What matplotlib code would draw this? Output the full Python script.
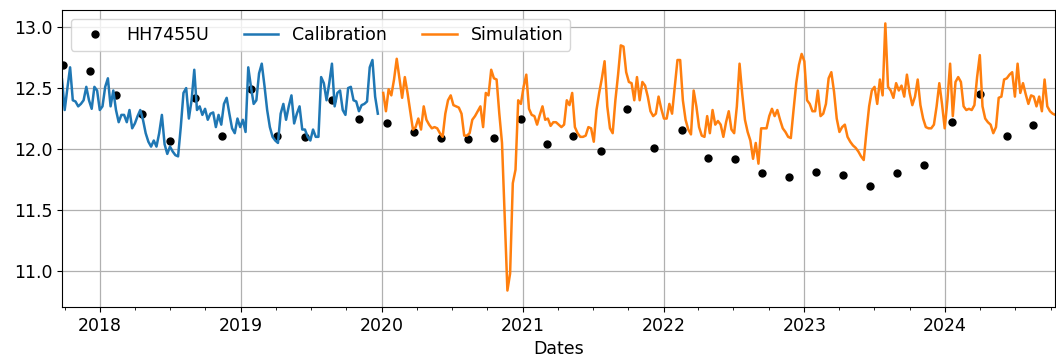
import numpy as np
import pandas as pd
import matplotlib
matplotlib.use("Agg")
import matplotlib.pyplot as plt
import matplotlib.dates as mdates

# observed levels (well HH7455U)
obs_dates = ["2017-09-27", "2017-12-06", "2018-02-12", "2018-04-19", "2018-07-01",
             "2018-09-05", "2018-11-14", "2019-01-27", "2019-04-05", "2019-06-17",
             "2019-08-25", "2019-11-04", "2020-01-15", "2020-03-25", "2020-06-03",
             "2020-08-11", "2020-10-17", "2020-12-27", "2021-03-05", "2021-05-12",
             "2021-07-23", "2021-09-28", "2021-12-07", "2022-02-17", "2022-04-27",
             "2022-07-05", "2022-09-13", "2022-11-22", "2023-02-01", "2023-04-11",
             "2023-06-21", "2023-08-29", "2023-11-08", "2024-01-20", "2024-03-31",
             "2024-06-09", "2024-08-16"]
obs_values = [12.69, 12.64, 12.44, 12.29, 12.07, 12.42, 12.11, 12.49, 12.11, 12.10,
              12.40, 12.25, 12.21, 12.14, 12.09, 12.08, 12.09, 12.25, 12.04, 12.11,
              11.98, 12.33, 12.01, 12.16, 11.93, 11.92, 11.80, 11.77, 11.81, 11.79,
              11.70, 11.80, 11.87, 12.22, 12.45, 12.11, 12.20]

# weekly calibration run
calib_start = "2017-09-24"
calib_values = [12.57, 12.32, 12.50, 12.67, 12.40, 12.39, 12.35, 12.37, 12.40, 12.51,
                12.40, 12.33, 12.51, 12.48, 12.32, 12.35, 12.51, 12.58, 12.35, 12.48,
                12.32, 12.22, 12.28, 12.28, 12.22, 12.32, 12.17, 12.21, 12.27, 12.32,
                12.24, 12.13, 12.06, 12.02, 12.07, 12.02, 12.13, 12.28, 12.04, 11.96,
                12.02, 11.98, 11.95, 11.94, 12.18, 12.46, 12.50, 12.25, 12.40, 12.65,
                12.32, 12.35, 12.28, 12.33, 12.24, 12.29, 12.30, 12.18, 12.28, 12.20,
                12.37, 12.42, 12.29, 12.17, 12.13, 12.25, 12.18, 12.24, 12.14, 12.67,
                12.51, 12.37, 12.40, 12.62, 12.70, 12.52, 12.32, 12.18, 12.10, 12.07,
                12.05, 12.29, 12.37, 12.24, 12.35, 12.44, 12.21, 12.29, 12.35, 12.16,
                12.16, 12.10, 12.07, 12.16, 12.10, 12.10, 12.59, 12.54, 12.40, 12.54,
                12.70, 12.35, 12.46, 12.48, 12.32, 12.28, 12.50, 12.51, 12.40, 12.39,
                12.31, 12.36, 12.37, 12.39, 12.67, 12.73, 12.43, 12.29]

# weekly simulation run
sim_start = "2020-01-05"
sim_values = [12.46, 12.31, 12.49, 12.44, 12.57, 12.74, 12.58, 12.42, 12.59, 12.46,
              12.31, 12.16, 12.18, 12.25, 12.16, 12.35, 12.24, 12.20, 12.17, 12.18,
              12.17, 12.13, 12.10, 12.29, 12.40, 12.44, 12.36, 12.35, 12.34, 12.29,
              12.11, 12.11, 12.13, 12.24, 12.27, 12.31, 12.35, 12.18, 12.46, 12.44,
              12.65, 12.58, 12.57, 12.29, 12.05, 11.45, 10.84, 10.98, 11.72, 11.83,
              12.40, 12.37, 12.51, 12.61, 12.33, 12.28, 12.27, 12.20, 12.28, 12.35,
              12.24, 12.25, 12.19, 12.22, 12.22, 12.20, 12.18, 12.20, 12.40, 12.36,
              12.46, 12.18, 12.13, 12.10, 12.10, 12.11, 12.18, 12.17, 12.06, 12.32,
              12.46, 12.58, 12.72, 12.35, 12.17, 12.13, 12.40, 12.61, 12.85, 12.84,
              12.63, 12.55, 12.54, 12.40, 12.59, 12.40, 12.55, 12.52, 12.43, 12.31,
              12.27, 12.29, 12.43, 12.33, 12.25, 12.25, 12.37, 12.29, 12.51, 12.73,
              12.73, 12.40, 12.24,
              12.16, 12.12, 12.48, 12.35, 12.18, 12.11, 12.10, 12.27, 12.13, 12.32,
              12.20, 12.23, 12.20, 12.10, 12.22, 12.31, 12.16, 12.13, 12.35, 12.70,
              12.45, 12.24, 12.14, 12.07, 11.92, 12.05, 11.88, 12.17, 12.17, 12.17,
              12.27, 12.33, 12.27, 12.32, 12.24, 12.17, 12.14, 12.10, 12.09, 12.32,
              12.54, 12.69, 12.78, 12.72, 12.40, 12.37, 12.31, 12.31, 12.48, 12.27,
              12.29, 12.37, 12.58, 12.63, 12.47, 12.25, 12.14, 12.18, 12.20, 12.10,
              12.06, 12.03, 12.01, 11.98, 11.94, 11.91, 12.14, 12.35, 12.48, 12.51,
              12.37, 12.57, 12.44, 13.03, 12.51, 12.48, 12.42, 12.54, 12.48, 12.52,
              12.43, 12.61, 12.46, 12.36, 12.43, 12.57, 12.36, 12.25, 12.18, 12.17,
              12.17, 12.20, 12.35, 12.54, 12.37, 12.17, 12.40, 12.70, 12.27, 12.55,
              12.59, 12.55, 12.35, 12.32, 12.33, 12.32, 12.36, 12.59, 12.77, 12.35,
              12.25, 12.22, 12.20, 12.13, 12.18, 12.42, 12.43, 12.57, 12.58, 12.61,
              12.63, 12.43, 12.70, 12.46, 12.54, 12.45, 12.37, 12.44, 12.43, 12.35,
              12.43, 12.31, 12.57, 12.35, 12.31, 12.29, 12.28]

obs_t = pd.to_datetime(obs_dates)
calib_t = pd.date_range(calib_start, periods=len(calib_values), freq="7D")
sim_t = pd.date_range(sim_start, periods=len(sim_values), freq="7D")

fs = 12.5
fig = plt.figure(figsize=(10.56, 3.61), dpi=100)
ax = fig.add_axes([62 / 1056, 54 / 361, 993 / 1056, 297 / 361])

ax.plot(obs_t, obs_values, "o", color="black", markersize=5, label="HH7455U")
ax.plot(calib_t, calib_values, color="tab:blue", lw=1.8, label="Calibration")
ax.plot(sim_t, sim_values, color="tab:orange", lw=1.8, label="Simulation")

ax.set_xlim(pd.Timestamp("2017-09-24"), pd.Timestamp("2024-10-12"))
ax.set_ylim(10.705, 13.14)
ax.set_yticks([11.0, 11.5, 12.0, 12.5, 13.0])

ax.xaxis.set_major_locator(mdates.YearLocator())
ax.xaxis.set_major_formatter(mdates.DateFormatter("%Y"))
ax.xaxis.set_minor_locator(mdates.MonthLocator(bymonth=[4, 7, 10]))
ax.tick_params(labelsize=fs)

ax.grid(True, which="major", color="#b0b0b0", lw=0.9)
ax.set_xlabel("Dates", fontsize=fs)
ax.legend(loc="upper left", ncol=3, fontsize=fs)

fig.savefig("out.png", dpi=100)
